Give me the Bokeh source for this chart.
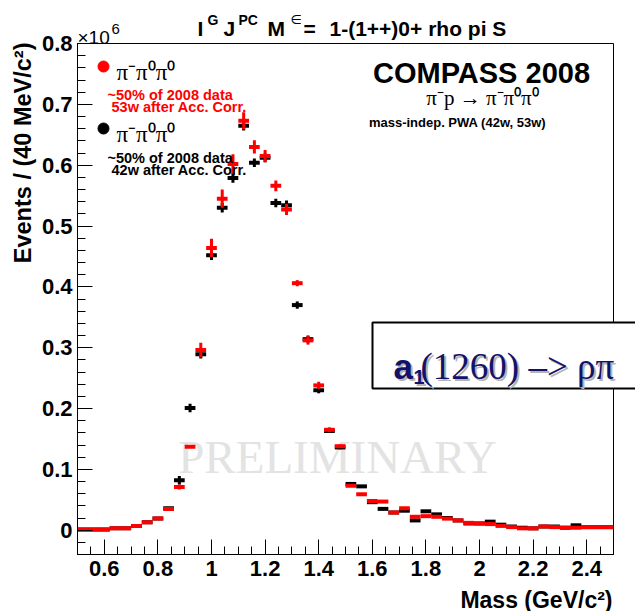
import numpy as np
from bokeh.plotting import figure
from bokeh.models import (Range1d, FixedTicker, CustomJSTickFormatter, Label,
                          BoxAnnotation, ColumnDataSource)
from bokeh.embed import file_html
from bokeh.resources import INLINE

# 40 MeV mass bins (bin centres, GeV/c^2)
mass = [0.52, 0.56, 0.60, 0.64, 0.68, 0.72, 0.76, 0.80, 0.84, 0.88,
        0.92, 0.96, 1.00, 1.04, 1.08, 1.12, 1.16, 1.20, 1.24, 1.28,
        1.32, 1.36, 1.40, 1.44, 1.48, 1.52, 1.56, 1.60, 1.64, 1.68,
        1.72, 1.76, 1.80, 1.84, 1.88, 1.92, 1.96, 2.00, 2.04, 2.08,
        2.12, 2.16, 2.20, 2.24, 2.28, 2.32, 2.36, 2.40, 2.44, 2.48]

# 53w sample (red), events in units of 10^6
red_events = [0.001, 0.001, 0.001, 0.003, 0.003, 0.007, 0.013, 0.019, 0.035, 0.071,
              0.137, 0.296, 0.464, 0.545, 0.602, 0.673, 0.630, 0.615, 0.566, 0.527,
              0.406, 0.312, 0.238, 0.165, 0.138, 0.073, 0.059, 0.048, 0.047, 0.029,
              0.036, 0.022, 0.023, 0.022, 0.019, 0.016, 0.012, 0.011, 0.010, 0.007,
              0.005, 0.003, 0.003, 0.006, 0.005, 0.004, 0.004, 0.005, 0.005, 0.005]
red_err = [0.0, 0.0, 0.0, 0.0, 0.0, 0.0, 0.0, 0.0, 0.002, 0.004,
           0.002, 0.012, 0.015, 0.015, 0.016, 0.014, 0.011, 0.010, 0.009, 0.009,
           0.005, 0.007, 0.006, 0.004, 0.003, 0.002, 0.002, 0.002, 0.002, 0.001,
           0.001, 0.001, 0.001, 0.001, 0.001, 0.001, 0.001, 0.001, 0.001, 0.001,
           0.001, 0.001, 0.001, 0.001, 0.001, 0.001, 0.001, 0.001, 0.001, 0.001]

# 42w sample (black)
black_events = [0.001, 0.001, 0.001, 0.003, 0.003, 0.007, 0.013, 0.019, 0.036, 0.082,
                0.201, 0.289, 0.452, 0.530, 0.579, 0.665, 0.604, 0.612, 0.538, 0.534,
                0.370, 0.314, 0.230, 0.163, 0.136, 0.076, 0.072, 0.046, 0.035, 0.029,
                0.032, 0.016, 0.031, 0.026, 0.020, 0.016, 0.011, 0.011, 0.014, 0.009,
                0.006, 0.004, 0.003, 0.006, 0.006, 0.004, 0.008, 0.005, 0.005, 0.005]
black_err = [0.0, 0.0, 0.0, 0.0, 0.0, 0.0, 0.0, 0.0, 0.002, 0.007,
             0.007, 0.007, 0.008, 0.008, 0.008, 0.008, 0.007, 0.007, 0.007, 0.008,
             0.006, 0.006, 0.005, 0.003, 0.003, 0.003, 0.002, 0.002, 0.002, 0.001,
             0.001, 0.001, 0.001, 0.001, 0.001, 0.001, 0.001, 0.001, 0.001, 0.001,
             0.001, 0.001, 0.001, 0.001, 0.001, 0.001, 0.001, 0.001, 0.001, 0.001]

BIN = 0.04
X_RANGE = (0.5, 2.5)      # mass axis
Y_RANGE = (-0.04, 0.8)    # events axis (x10^6)

W, H = 635, 611
# pixel box of the histogram pad inside the canvas
PAD_L, PAD_R, PAD_T, PAD_B = 77, 613, 43, 554

SANS = "Liberation Sans"
SERIF = "Liberation Serif"
NAVY = "#12126b"


def sx(px):
    """Canvas pixel column -> data x."""
    return X_RANGE[0] + (px - PAD_L) * (X_RANGE[1] - X_RANGE[0]) / (PAD_R - PAD_L)


def sy(py):
    """Canvas pixel row -> data y."""
    return Y_RANGE[1] - (py - PAD_T) * (Y_RANGE[1] - Y_RANGE[0]) / (PAD_B - PAD_T)


# The frame fills the whole canvas so that titles around the pad are drawn
# as ordinary labels; the axes sit at fixed locations on the pad edges.
p = figure(width=W, height=H,
           x_range=Range1d(sx(0), sx(W)), y_range=Range1d(sy(H), sy(0)),
           output_backend="svg", toolbar_location=None, min_border=0)
p.xgrid.visible = False
p.ygrid.visible = False
p.outline_line_color = None
p.background_fill_color = "white"
p.border_fill_color = "white"

fmt = CustomJSTickFormatter(code="return tick.toFixed(1).replace(/\\.0$/, '');")
p.xaxis.ticker = FixedTicker(ticks=np.round(np.arange(0.6, 2.41, 0.2), 2).tolist(),
                             minor_ticks=np.round(np.arange(0.5, 2.501, 0.05), 2).tolist())
p.yaxis.ticker = FixedTicker(ticks=np.round(np.arange(0.0, 0.81, 0.1), 2).tolist(),
                             minor_ticks=np.round(np.arange(-0.04, 0.801, 0.02), 2).tolist())
p.xaxis.fixed_location = Y_RANGE[0]
p.yaxis.fixed_location = X_RANGE[0]
p.xaxis.bounds = X_RANGE
p.yaxis.bounds = Y_RANGE
for ax in (p.xaxis[0], p.yaxis[0]):
    ax.formatter = fmt
    ax.major_tick_in = 15
    ax.major_tick_out = 0
    ax.minor_tick_in = 8
    ax.minor_tick_out = 0
    ax.axis_line_width = 1
    ax.major_tick_line_width = 1
    ax.minor_tick_line_width = 1
    ax.major_label_text_font = SANS
    ax.major_label_text_font_size = "22px"
    ax.major_label_text_font_style = "bold"
    ax.major_label_text_color = "black"
p.xaxis.major_label_standoff = 6
p.yaxis.major_label_standoff = 5

# pad frame
p.add_layout(BoxAnnotation(left=X_RANGE[0], right=X_RANGE[1],
                           bottom=Y_RANGE[0], top=Y_RANGE[1],
                           fill_alpha=0.0, line_color="black", line_alpha=1.0,
                           line_width=1, level="underlay"))


def text(px, py, s, size, color="black", font=SANS, style="bold", align="left",
         baseline="alphabetic", angle=0.0, level="annotation"):
    p.add_layout(Label(x=sx(px), y=sy(py), text=s, text_font=font,
                       text_font_size=f"{size}px", text_font_style=style,
                       text_color=color, text_align=align, text_baseline=baseline,
                       angle=angle, level=level))


# watermark behind the data
text(337, 456, "PRELIMINARY", 47, color="#e3e3e3", font=SERIF, style="normal",
     align="center", level="underlay")


def draw_series(vals, errs, color):
    src = ColumnDataSource(dict(
        x=mass, y=vals,
        xl=[m - BIN / 2 for m in mass], xr=[m + BIN / 2 for m in mass],
        lo=[v - e for v, e in zip(vals, errs)], hi=[v + e for v, e in zip(vals, errs)],
    ))
    p.segment(x0="xl", y0="y", x1="xr", y1="y", source=src,
              line_color=color, line_width=4, line_cap="butt")
    p.segment(x0="x", y0="lo", x1="x", y1="hi", source=src,
              line_color=color, line_width=3, line_cap="butt")


draw_series(black_events, black_err, "black")
draw_series(red_events, red_err, "#ff0000")

# title  I^G J^PC M^eps = 1-(1++)0+ rho pi S
text(197, 28, "I", 21)
text(207, 19, "G", 14)
text(223, 28, "J", 21)
text(238, 19, "PC", 14)
text(267, 28, "M", 21)
text(290, 19, "\u2208", 13, font="DejaVu Sans", style="normal")
text(303, 28, "=", 21)
text(329, 28, "1-(1++)0+ rho pi S", 21)

# exponent of the y axis
text(77, 37, "\u00d710", 19, style="normal")
text(111, 28, "6", 15, style="normal")

# axis titles
text(22, 42, "Events / (40 MeV/c\u00b2)", 23.5, align="right", baseline="middle",
     angle=np.pi / 2)
text(612, 599, "Mass (GeV/c\u00b2)", 23, align="right")

# legend
p.scatter(x=[sx(103)], y=[sy(66)], size=11, color="#ff0000")
text(116, 72, "\u03c0\u207b\u03c0\u2070\u03c0\u2070", 23, font=SERIF, style="normal")
text(107, 94, "~50% of 2008 data", 14.5, color="#ff0000")
text(111, 106, "53w after Acc. Corr.", 14.5, color="#ff0000")
p.scatter(x=[sx(103)], y=[sy(128)], size=11, color="black")
text(116, 134, "\u03c0\u207b\u03c0\u2070\u03c0\u2070", 23, font=SERIF, style="normal")
text(107, 157, "~50% of 2008 data", 14.5)
text(111, 169, "42w after Acc. Corr.", 14.5)

# experiment block
text(481, 72, "COMPASS 2008", 29, align="center")
text(482, 97, "\u03c0\u207bp \u2192 \u03c0\u207b\u03c0\u2070\u03c0\u2070", 21, font=SERIF,
     style="normal", align="center")
text(457, 122, "mass-indep. PWA (42w, 53w)", 13, align="center")

# wave label box
p.add_layout(BoxAnnotation(left=sx(372), right=sx(645), top=sy(322), bottom=sy(388),
                           fill_color="white", fill_alpha=1.0,
                           line_color="black", line_alpha=1.0, line_width=2))
for dx, dy, col in ((2, 2, "#b4b4b4"), (0, 0, NAVY)):
    text(393 + dx, 366 + dy, "a", 35, color=col)
    text(413 + dx, 376 + dy, "1", 20, color=col)
    text(420 + dx, 366 + dy, "(1260) \u2013> \u03c1\u03c0", 37, color=col, font=SERIF,
         style="normal")

open("out.html", "w").write(file_html(p, INLINE))
